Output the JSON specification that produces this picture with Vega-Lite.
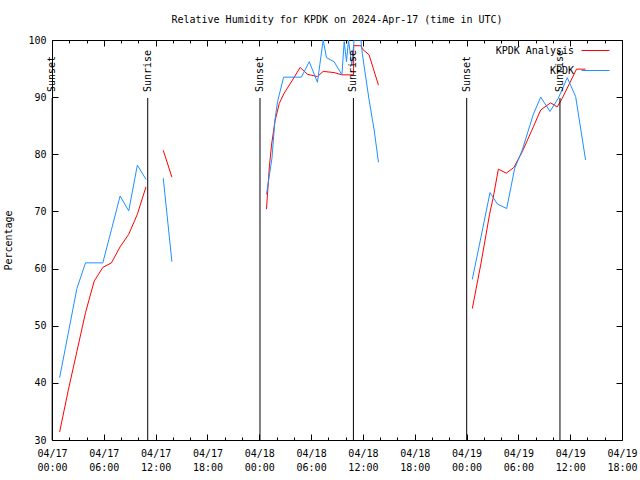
{
  "$schema": "https://vega.github.io/schema/vega-lite/v6.json",
  "width": 570,
  "height": 400,
  "autosize": {"type": "none"},
  "padding": {"left": 52, "top": 40, "right": 18, "bottom": 40},
  "background": "white",
  "config": {
    "view": {"stroke": "black", "strokeWidth": 1},
    "font": "DejaVu Sans Mono",
    "axis": {"labelFont": "DejaVu Sans Mono", "labelFontSize": 10, "labelColor": "black", "tickColor": "black", "titleFont": "DejaVu Sans Mono", "titleFontSize": 10, "titleFontWeight": "normal", "titleColor": "black", "grid": false, "domain": false}
  },
  "title": {"text": "Relative Humidity for KPDK on 2024-Apr-17 (time in UTC)", "font": "DejaVu Sans Mono", "fontSize": 10, "fontWeight": "normal", "color": "black", "anchor": "middle", "frame": "group", "offset": 10},
  "datasets": {
    "hum": [
      {"t": "2024-04-17T00:53:00Z", "v": 31.4, "s": "KPDK Analysis", "g": 1},
      {"t": "2024-04-17T01:53:00Z", "v": 38.7, "s": "KPDK Analysis", "g": 1},
      {"t": "2024-04-17T02:53:00Z", "v": 45.5, "s": "KPDK Analysis", "g": 1},
      {"t": "2024-04-17T03:53:00Z", "v": 52.3, "s": "KPDK Analysis", "g": 1},
      {"t": "2024-04-17T04:53:00Z", "v": 57.8, "s": "KPDK Analysis", "g": 1},
      {"t": "2024-04-17T05:53:00Z", "v": 60.2, "s": "KPDK Analysis", "g": 1},
      {"t": "2024-04-17T06:53:00Z", "v": 61.0, "s": "KPDK Analysis", "g": 1},
      {"t": "2024-04-17T07:53:00Z", "v": 63.8, "s": "KPDK Analysis", "g": 1},
      {"t": "2024-04-17T08:53:00Z", "v": 66.0, "s": "KPDK Analysis", "g": 1},
      {"t": "2024-04-17T09:53:00Z", "v": 69.5, "s": "KPDK Analysis", "g": 1},
      {"t": "2024-04-17T10:53:00Z", "v": 74.3, "s": "KPDK Analysis", "g": 1},
      {"t": "2024-04-17T12:53:00Z", "v": 80.7, "s": "KPDK Analysis", "g": 2},
      {"t": "2024-04-17T13:53:00Z", "v": 76.0, "s": "KPDK Analysis", "g": 2},
      {"t": "2024-04-18T00:50:00Z", "v": 70.4, "s": "KPDK Analysis", "g": 3},
      {"t": "2024-04-18T01:10:00Z", "v": 77.8, "s": "KPDK Analysis", "g": 3},
      {"t": "2024-04-18T01:25:00Z", "v": 81.6, "s": "KPDK Analysis", "g": 3},
      {"t": "2024-04-18T01:49:00Z", "v": 85.8, "s": "KPDK Analysis", "g": 3},
      {"t": "2024-04-18T02:19:00Z", "v": 88.9, "s": "KPDK Analysis", "g": 3},
      {"t": "2024-04-18T02:53:00Z", "v": 90.7, "s": "KPDK Analysis", "g": 3},
      {"t": "2024-04-18T03:51:00Z", "v": 93.0, "s": "KPDK Analysis", "g": 3},
      {"t": "2024-04-18T04:44:00Z", "v": 95.2, "s": "KPDK Analysis", "g": 3},
      {"t": "2024-04-18T05:35:00Z", "v": 94.0, "s": "KPDK Analysis", "g": 3},
      {"t": "2024-04-18T06:44:00Z", "v": 93.6, "s": "KPDK Analysis", "g": 3},
      {"t": "2024-04-18T07:24:00Z", "v": 94.5, "s": "KPDK Analysis", "g": 3},
      {"t": "2024-04-18T08:40:00Z", "v": 94.3, "s": "KPDK Analysis", "g": 3},
      {"t": "2024-04-18T09:34:00Z", "v": 93.9, "s": "KPDK Analysis", "g": 3},
      {"t": "2024-04-18T10:55:00Z", "v": 93.9, "s": "KPDK Analysis", "g": 3},
      {"t": "2024-04-18T10:56:00Z", "v": 99.0, "s": "KPDK Analysis", "g": 3},
      {"t": "2024-04-18T11:46:00Z", "v": 99.0, "s": "KPDK Analysis", "g": 3},
      {"t": "2024-04-18T11:57:00Z", "v": 98.4, "s": "KPDK Analysis", "g": 3},
      {"t": "2024-04-18T12:43:00Z", "v": 97.4, "s": "KPDK Analysis", "g": 3},
      {"t": "2024-04-18T13:48:00Z", "v": 92.1, "s": "KPDK Analysis", "g": 3},
      {"t": "2024-04-19T00:40:00Z", "v": 53.0, "s": "KPDK Analysis", "g": 4},
      {"t": "2024-04-19T01:41:00Z", "v": 61.0, "s": "KPDK Analysis", "g": 4},
      {"t": "2024-04-19T02:40:00Z", "v": 69.5, "s": "KPDK Analysis", "g": 4},
      {"t": "2024-04-19T03:06:00Z", "v": 72.5, "s": "KPDK Analysis", "g": 4},
      {"t": "2024-04-19T03:41:00Z", "v": 77.4, "s": "KPDK Analysis", "g": 4},
      {"t": "2024-04-19T04:36:00Z", "v": 76.7, "s": "KPDK Analysis", "g": 4},
      {"t": "2024-04-19T05:29:00Z", "v": 77.7, "s": "KPDK Analysis", "g": 4},
      {"t": "2024-04-19T06:27:00Z", "v": 80.45, "s": "KPDK Analysis", "g": 4},
      {"t": "2024-04-19T07:44:00Z", "v": 84.8, "s": "KPDK Analysis", "g": 4},
      {"t": "2024-04-19T08:35:00Z", "v": 87.75, "s": "KPDK Analysis", "g": 4},
      {"t": "2024-04-19T09:44:00Z", "v": 89.0, "s": "KPDK Analysis", "g": 4},
      {"t": "2024-04-19T10:30:00Z", "v": 88.3, "s": "KPDK Analysis", "g": 4},
      {"t": "2024-04-19T11:05:00Z", "v": 89.8, "s": "KPDK Analysis", "g": 4},
      {"t": "2024-04-19T12:44:00Z", "v": 94.9, "s": "KPDK Analysis", "g": 4},
      {"t": "2024-04-19T13:47:00Z", "v": 94.9, "s": "KPDK Analysis", "g": 4},
      {"t": "2024-04-17T00:53:00Z", "v": 40.9, "s": "KPDK", "g": 1},
      {"t": "2024-04-17T01:53:00Z", "v": 48.7, "s": "KPDK", "g": 1},
      {"t": "2024-04-17T02:53:00Z", "v": 56.5, "s": "KPDK", "g": 1},
      {"t": "2024-04-17T03:53:00Z", "v": 61.0, "s": "KPDK", "g": 1},
      {"t": "2024-04-17T04:53:00Z", "v": 61.0, "s": "KPDK", "g": 1},
      {"t": "2024-04-17T05:53:00Z", "v": 61.0, "s": "KPDK", "g": 1},
      {"t": "2024-04-17T06:53:00Z", "v": 66.8, "s": "KPDK", "g": 1},
      {"t": "2024-04-17T07:53:00Z", "v": 72.7, "s": "KPDK", "g": 1},
      {"t": "2024-04-17T08:53:00Z", "v": 70.1, "s": "KPDK", "g": 1},
      {"t": "2024-04-17T09:53:00Z", "v": 78.1, "s": "KPDK", "g": 1},
      {"t": "2024-04-17T10:53:00Z", "v": 75.6, "s": "KPDK", "g": 1},
      {"t": "2024-04-17T12:53:00Z", "v": 75.8, "s": "KPDK", "g": 2},
      {"t": "2024-04-17T13:53:00Z", "v": 61.2, "s": "KPDK", "g": 2},
      {"t": "2024-04-18T00:50:00Z", "v": 73.0, "s": "KPDK", "g": 3},
      {"t": "2024-04-18T01:28:00Z", "v": 79.3, "s": "KPDK", "g": 3},
      {"t": "2024-04-18T01:49:00Z", "v": 86.0, "s": "KPDK", "g": 3},
      {"t": "2024-04-18T02:07:00Z", "v": 89.2, "s": "KPDK", "g": 3},
      {"t": "2024-04-18T02:49:00Z", "v": 93.5, "s": "KPDK", "g": 3},
      {"t": "2024-04-18T04:53:00Z", "v": 93.5, "s": "KPDK", "g": 3},
      {"t": "2024-04-18T05:47:00Z", "v": 96.2, "s": "KPDK", "g": 3},
      {"t": "2024-04-18T06:44:00Z", "v": 92.6, "s": "KPDK", "g": 3},
      {"t": "2024-04-18T07:24:00Z", "v": 100, "s": "KPDK", "g": 3},
      {"t": "2024-04-18T07:47:00Z", "v": 96.9, "s": "KPDK", "g": 3},
      {"t": "2024-04-18T08:40:00Z", "v": 96.2, "s": "KPDK", "g": 3},
      {"t": "2024-04-18T09:34:00Z", "v": 93.9, "s": "KPDK", "g": 3},
      {"t": "2024-04-18T09:50:00Z", "v": 99.7, "s": "KPDK", "g": 3},
      {"t": "2024-04-18T10:06:00Z", "v": 96.2, "s": "KPDK", "g": 3},
      {"t": "2024-04-18T10:20:00Z", "v": 100, "s": "KPDK", "g": 3},
      {"t": "2024-04-18T10:43:00Z", "v": 95.5, "s": "KPDK", "g": 3},
      {"t": "2024-04-18T10:59:00Z", "v": 100, "s": "KPDK", "g": 3},
      {"t": "2024-04-18T11:46:00Z", "v": 100, "s": "KPDK", "g": 3},
      {"t": "2024-04-18T11:57:00Z", "v": 97.4, "s": "KPDK", "g": 3},
      {"t": "2024-04-18T12:43:00Z", "v": 89.5, "s": "KPDK", "g": 3},
      {"t": "2024-04-18T13:18:00Z", "v": 84.3, "s": "KPDK", "g": 3},
      {"t": "2024-04-18T13:48:00Z", "v": 78.6, "s": "KPDK", "g": 3},
      {"t": "2024-04-19T00:40:00Z", "v": 58.1, "s": "KPDK", "g": 4},
      {"t": "2024-04-19T01:41:00Z", "v": 65.6, "s": "KPDK", "g": 4},
      {"t": "2024-04-19T02:43:00Z", "v": 73.3, "s": "KPDK", "g": 4},
      {"t": "2024-04-19T03:34:00Z", "v": 71.3, "s": "KPDK", "g": 4},
      {"t": "2024-04-19T04:39:00Z", "v": 70.5, "s": "KPDK", "g": 4},
      {"t": "2024-04-19T05:34:00Z", "v": 77.5, "s": "KPDK", "g": 4},
      {"t": "2024-04-19T06:27:00Z", "v": 80.75, "s": "KPDK", "g": 4},
      {"t": "2024-04-19T07:44:00Z", "v": 87.0, "s": "KPDK", "g": 4},
      {"t": "2024-04-19T08:35:00Z", "v": 90.0, "s": "KPDK", "g": 4},
      {"t": "2024-04-19T09:40:00Z", "v": 87.5, "s": "KPDK", "g": 4},
      {"t": "2024-04-19T10:37:00Z", "v": 89.8, "s": "KPDK", "g": 4},
      {"t": "2024-04-19T11:40:00Z", "v": 93.4, "s": "KPDK", "g": 4},
      {"t": "2024-04-19T12:38:00Z", "v": 90.1, "s": "KPDK", "g": 4},
      {"t": "2024-04-19T13:47:00Z", "v": 79.0, "s": "KPDK", "g": 4}
    ],
    "sun": [
      {"t": "2024-04-17T00:01:00Z", "label": "Sunset"},
      {"t": "2024-04-17T11:05:00Z", "label": "Sunrise"},
      {"t": "2024-04-18T00:05:00Z", "label": "Sunset"},
      {"t": "2024-04-18T10:54:00Z", "label": "Sunrise"},
      {"t": "2024-04-19T00:01:00Z", "label": "Sunset"},
      {"t": "2024-04-19T10:49:00Z", "label": "Sunrise"}
    ]
  },
  "resolve": {"axis": {"x": "independent", "y": "independent"}},
  "layer": [
    {
      "data": {"name": "hum"},
      "transform": [{"filter": "datum.s === 'KPDK Analysis'"}],
      "mark": {"type": "line", "strokeWidth": 1, "clip": true},
      "encoding": {
        "x": {"field": "t", "type": "temporal", "scale": {"domain": [1713312000000, 1713549600000], "nice": false}, "axis": {"orient": "bottom", "title": null, "values": [1713312000000, 1713333600000, 1713355200000, 1713376800000, 1713398400000, 1713420000000, 1713441600000, 1713463200000, 1713484800000, 1713506400000, 1713528000000, 1713549600000], "tickSize": -6, "labelExpr": "[utcFormat(datum.value, '%m/%d'), utcFormat(datum.value, '%H:%M')]", "labelLineHeight": 14, "labelPadding": 14, "labelFlush": false, "labelOverlap": false}},
        "y": {"field": "v", "type": "quantitative", "scale": {"domain": [30, 100], "nice": false, "zero": false}, "axis": {"orient": "left", "title": "Percentage", "values": [30, 40, 50, 60, 70, 80, 90, 100], "tickSize": -6, "labelPadding": 12, "titlePadding": 14}},
        "color": {"field": "s", "type": "nominal", "scale": {"domain": ["KPDK Analysis", "KPDK"], "range": ["#ff0000", "#1e90ff"]}, "legend": {"orient": "none", "legendX": 529, "legendY": -4, "title": null, "symbolType": "stroke", "symbolSize": 784, "symbolStrokeWidth": 1, "labelAlign": "right", "labelOffset": -36, "labelFont": "DejaVu Sans Mono", "labelFontSize": 10, "labelColor": "black", "rowPadding": -7, "padding": 0}},
        "detail": {"field": "g", "type": "nominal"}
      }
    },
    {
      "data": {"name": "hum"},
      "transform": [{"filter": "datum.s === 'KPDK'"}],
      "mark": {"type": "line", "strokeWidth": 1, "clip": true},
      "encoding": {
        "x": {"field": "t", "type": "temporal", "axis": {"orient": "top", "title": null, "labels": false, "values": [1713312000000, 1713333600000, 1713355200000, 1713376800000, 1713398400000, 1713420000000, 1713441600000, 1713463200000, 1713484800000, 1713506400000, 1713528000000, 1713549600000], "tickSize": -6}},
        "y": {"field": "v", "type": "quantitative", "axis": {"orient": "right", "title": null, "labels": false, "values": [30, 40, 50, 60, 70, 80, 90, 100], "tickSize": -6}},
        "color": {"field": "s", "type": "nominal"},
        "detail": {"field": "g", "type": "nominal"}
      }
    },
    {
      "data": {"name": "sun"},
      "mark": {"type": "rule", "color": "black", "strokeWidth": 1},
      "encoding": {
        "x": {"field": "t", "type": "temporal", "axis": {"orient": "bottom", "title": null, "labels": false, "values": [1713319200000, 1713326400000, 1713340800000, 1713348000000, 1713362400000, 1713369600000, 1713384000000, 1713391200000, 1713405600000, 1713412800000, 1713427200000, 1713434400000, 1713448800000, 1713456000000, 1713470400000, 1713477600000, 1713492000000, 1713499200000, 1713513600000, 1713520800000, 1713535200000, 1713542400000], "tickSize": -3}},
        "y": {"datum": 30, "type": "quantitative", "axis": null},
        "y2": {"datum": 89.85}
      }
    },
    {
      "data": {"name": "sun"},
      "mark": {"type": "text", "angle": 270, "align": "left", "baseline": "middle", "font": "DejaVu Sans Mono", "fontSize": 10, "color": "black"},
      "encoding": {
        "x": {"field": "t", "type": "temporal", "axis": {"orient": "top", "title": null, "labels": false, "values": [1713319200000, 1713326400000, 1713340800000, 1713348000000, 1713362400000, 1713369600000, 1713384000000, 1713391200000, 1713405600000, 1713412800000, 1713427200000, 1713434400000, 1713448800000, 1713456000000, 1713470400000, 1713477600000, 1713492000000, 1713499200000, 1713513600000, 1713520800000, 1713535200000, 1713542400000], "tickSize": -3}},
        "y": {"datum": 90.9, "type": "quantitative", "axis": null},
        "text": {"field": "label"}
      }
    }
  ]
}
